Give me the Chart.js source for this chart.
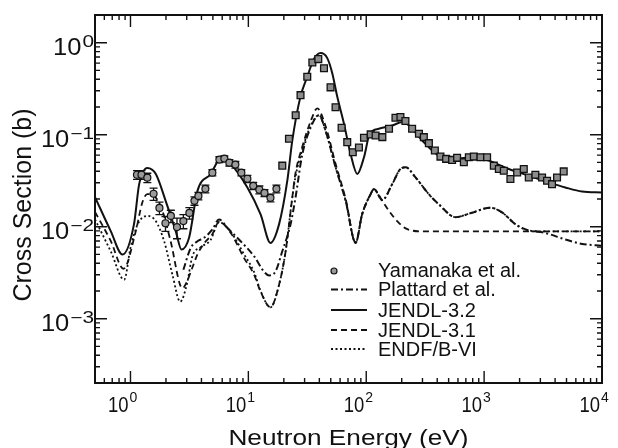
<!DOCTYPE html>
<html>
<head>
<meta charset="utf-8">
<script src="https://cdn.jsdelivr.net/npm/chart.js@4.4.0/dist/chart.umd.min.js"></script>
<style>
  body { margin: 0; background: #fff; }
  #wrap { width: 618px; height: 448px; }
</style>
</head>
<body>
<div id="wrap"><canvas id="xsChart" width="618" height="448"></canvas></div>
<script>
// Yamanaka et al. - low energy points (with error bars)
const yamLoE = [1.135, 1.24, 1.39, 1.57, 1.76, 1.98, 2.2, 2.48, 2.81, 3.16, 3.49, 3.77, 4.32, 4.95, 5.68, 6.26, 6.9, 7.76, 8.72, 9.81, 11.0, 12.4, 13.7, 15.4, 17.3];
const yamLoS = [0.0367, 0.0367, 0.0341, 0.0228, 0.016, 0.0109, 0.0131, 0.0099, 0.0115, 0.0141, 0.0191, 0.0216, 0.0258, 0.0387, 0.0536, 0.055, 0.0497, 0.0473, 0.0387, 0.0332, 0.0278, 0.0252, 0.0233, 0.0206, 0.0258];
const yamLoErr = [0.004, 0.004, 0.004, 0.0035, 0.0025, 0.002, 0.002, 0.0025, 0.002, 0.002, 0.002, 0.002, 0.0025, 0.003, 0.004, 0.004, 0.004, 0.004, 0.003, 0.003, 0.0025, 0.0025, 0.002, 0.002, 0.0025];

// Yamanaka et al. - higher energy points (squares)
const yamHiE = [19.4, 22.1, 25.2, 27.7, 31.6, 34.9, 39.2, 43.8, 49.8, 54.9, 61.8, 69.0, 76.9, 86.7, 95.7, 109, 120, 137, 156, 177, 195, 215, 245, 280, 308, 340, 382, 426, 476, 535, 590, 673, 742, 818, 931, 1060, 1208, 1333, 1469, 1671, 1905, 2170, 2393, 2722, 3102, 3420, 3767, 4156, 4733];
const yamHiS = [0.0461, 0.0904, 0.163, 0.269, 0.427, 0.609, 0.663, 0.528, 0.327, 0.199, 0.119, 0.083, 0.0645, 0.0726, 0.0927, 0.1007, 0.0982, 0.0941, 0.116, 0.153, 0.156, 0.141, 0.116, 0.1025, 0.0941, 0.0809, 0.0673, 0.0578, 0.0546, 0.0532, 0.056, 0.0501, 0.0569, 0.0578, 0.0569, 0.0569, 0.0461, 0.0424, 0.0406, 0.033, 0.0389, 0.0424, 0.0343, 0.0367, 0.0343, 0.0316, 0.029, 0.0343, 0.0399];

// Plattard et al. (dash-dot)
const platE = [2.81, 3.24, 3.7, 4.21, 4.95, 5.64, 6.63, 8.6, 11.2, 13.5, 15.0, 17.0, 19.4, 22.8, 25.0, 28.6, 33.8, 39.7, 45.1, 55, 66.9, 81.3, 92.2, 109, 116, 137, 166, 195, 216, 262, 339, 413, 571, 791, 1127, 1429, 1846, 2392, 3264, 4887, 6772, 10000];
const platS = [0.0034, 0.00587, 0.00695, 0.00757, 0.00933, 0.012, 0.00973, 0.00695, 0.00476, 0.00327, 0.00295, 0.00327, 0.0054, 0.0106, 0.02, 0.06, 0.12, 0.163, 0.111, 0.0442, 0.0191, 0.00667, 0.0136, 0.0226, 0.0256, 0.0195, 0.029, 0.0424, 0.0442, 0.0343, 0.0226, 0.0175, 0.0127, 0.0142, 0.0161, 0.0142, 0.0106, 0.0091, 0.00857, 0.00726, 0.0065, 0.0062];

// JENDL-3.2 (solid)
const j32E = [0.5, 0.68, 0.855, 1.07, 1.185, 1.39, 1.64, 1.99, 2.42, 2.71, 3.14, 3.7, 4.79, 5.83, 7.07, 9.81, 12.7, 15.4, 18.2, 21.4, 23.6, 27.6, 31.6, 36.0, 41.0, 46.7, 51.5, 56.8, 64.7, 73.6, 83.9, 95.7, 107, 128, 166, 202, 230, 298, 413, 571, 791, 1096, 1619, 2392, 3532, 4887, 6772, 10000];
const j32S = [0.021, 0.00895, 0.00498, 0.0106, 0.029, 0.0435, 0.0374, 0.019, 0.00895, 0.00564, 0.00757, 0.0245, 0.0374, 0.0546, 0.0481, 0.0267, 0.0136, 0.00667, 0.0106, 0.0316, 0.0866, 0.256, 0.427, 0.663, 0.771, 0.68, 0.466, 0.258, 0.132, 0.0619, 0.0374, 0.0569, 0.1025, 0.116, 0.126, 0.137, 0.126, 0.0866, 0.0593, 0.0546, 0.0569, 0.0523, 0.0424, 0.0358, 0.0303, 0.0267, 0.0241, 0.0235];

// JENDL-3.1 (dashed)
const j31E = [0.5, 0.68, 0.872, 1.11, 1.26, 1.39, 1.59, 1.87, 2.19, 2.76, 3.04, 3.35, 3.7, 4.21, 4.95, 5.64, 7.07, 9.2, 11.2, 12.7, 15.4, 18.2, 20.7, 23.5, 25.0, 28.6, 33.8, 38.4, 45.1, 55, 66.9, 81.3, 92.2, 109, 116, 137, 156, 183, 216, 298, 1000, 10000];
const j31S = [0.0145, 0.007, 0.00349, 0.00895, 0.0183, 0.0226, 0.0216, 0.0148, 0.00695, 0.00214, 0.0026, 0.0036, 0.005, 0.0066, 0.0083, 0.0113, 0.0086, 0.00456, 0.003, 0.00197, 0.00133, 0.00233, 0.0054, 0.02, 0.037, 0.0731, 0.14, 0.193, 0.125, 0.048, 0.02, 0.0067, 0.0136, 0.0226, 0.0256, 0.019, 0.0148, 0.0115, 0.0096, 0.0089, 0.0089, 0.0089];

// ENDF/B-VI (dotted)
const endfE = [0.5, 0.68, 0.884, 1.0, 1.15, 1.39, 1.64, 1.93, 2.27, 2.64, 3.0, 3.35, 3.95, 4.79, 5.64, 7.07, 9.2, 11.2, 12.7, 15.4, 18.2, 20.7, 23.5, 25.0, 28.6, 33.8, 39.7, 45.1, 55, 66.9, 81.3, 92.2, 109, 116, 137, 166, 195, 216, 262, 339, 413, 571, 791, 1127, 1429, 1846, 2392, 3264, 10000];
const endfS = [0.012, 0.0054, 0.00265, 0.00587, 0.0106, 0.0131, 0.0115, 0.00695, 0.003, 0.00153, 0.00233, 0.00476, 0.006, 0.0072, 0.0112, 0.0088, 0.005, 0.0032, 0.002, 0.00133, 0.00233, 0.0054, 0.02, 0.034, 0.068, 0.125, 0.163, 0.111, 0.0442, 0.0191, 0.00667, 0.0136, 0.0226, 0.0256, 0.0195, 0.029, 0.0424, 0.0442, 0.0343, 0.0226, 0.0175, 0.0127, 0.0142, 0.0161, 0.0142, 0.0106, 0.0091, 0.0089, 0.0089];

// axis ranges and tick exponents
const xRange = [0.5, 10000];
const yRange = [2e-4, 2];
const xExps = [0, 1, 2, 3, 4];
const yExps = [0, -1, -2, -3];

const legendItems = [
  { label: 'Yamanaka et al.', kind: 'marker' },
  { label: 'Plattard et al.', dash: [7, 3, 2, 3] },
  { label: 'JENDL-3.2', dash: [] },
  { label: 'JENDL-3.1', dash: [6, 4] },
  { label: 'ENDF/B-VI', dash: [2, 2.5] },
];

const FONT = '"Liberation Sans", Arial, Helvetica, sans-serif';

function pairs(es, ss) {
  return es.map((e, i) => ({ x: e, y: ss[i] }));
}

function curve(label, es, ss, dash, width) {
  return {
    label: label,
    data: pairs(es, ss),
    borderColor: '#111',
    borderWidth: width,
    borderDash: dash,
    pointRadius: 0,
    fill: false,
    cubicInterpolationMode: 'monotone',
  };
}

function stretchText(ctx, s, x, y, font, sx, align) {
  ctx.save();
  ctx.font = font;
  ctx.translate(x, y);
  ctx.scale(sx, 1);
  ctx.textAlign = align;
  ctx.textBaseline = 'alphabetic';
  ctx.fillText(s, 0, 0);
  ctx.restore();
}

function supText(e) {
  return e < 0 ? '\u2212' + Math.abs(e) : String(e);
}

function logTicks(min, max) {
  const out = [];
  for (let e = Math.floor(Math.log10(min)); e <= Math.ceil(Math.log10(max)); e++) {
    for (let m = 1; m < 10; m++) {
      const v = m * Math.pow(10, e);
      if (v > min * 1.001 && v < max * 0.999) out.push({ v: v, major: m === 1 });
    }
  }
  return out;
}

// error bars under the low-energy points
const errorBars = {
  id: 'errorBars',
  beforeDatasetsDraw(chart) {
    const { ctx, scales: { x, y } } = chart;
    ctx.save();
    ctx.strokeStyle = '#111';
    ctx.lineWidth = 1.3;
    yamLoE.forEach((e, i) => {
      const px = x.getPixelForValue(e);
      const top = y.getPixelForValue(yamLoS[i] + yamLoErr[i]);
      const bot = y.getPixelForValue(yamLoS[i] - yamLoErr[i]);
      ctx.beginPath();
      ctx.moveTo(px, top); ctx.lineTo(px, bot);
      ctx.moveTo(px - 4, top); ctx.lineTo(px + 4, top);
      ctx.moveTo(px - 4, bot); ctx.lineTo(px + 4, bot);
      ctx.stroke();
    });
    ctx.restore();
  },
};

// frame, inward ticks, labels, titles and legend
const frame = {
  id: 'frame',
  beforeDraw(chart) {
    const ctx = chart.ctx;
    ctx.save();
    ctx.fillStyle = '#fff';
    ctx.fillRect(0, 0, chart.width, chart.height);
    ctx.restore();
  },
  afterDraw(chart) {
    const { ctx, chartArea: a, scales: { x, y } } = chart;
    ctx.save();
    ctx.strokeStyle = '#111';
    ctx.fillStyle = '#111';

    // ticks
    ctx.lineWidth = 1.4;
    ctx.beginPath();
    logTicks(xRange[0], xRange[1]).forEach((t) => {
      const px = x.getPixelForValue(t.v);
      const len = t.major ? 12 : 5;
      ctx.moveTo(px, a.bottom); ctx.lineTo(px, a.bottom - len);
      ctx.moveTo(px, a.top); ctx.lineTo(px, a.top + len);
    });
    logTicks(yRange[0], yRange[1]).forEach((t) => {
      const py = y.getPixelForValue(t.v);
      const len = t.major ? 12 : 5;
      ctx.moveTo(a.left, py); ctx.lineTo(a.left + len, py);
      ctx.moveTo(a.right, py); ctx.lineTo(a.right - len, py);
    });
    ctx.stroke();

    // frame
    ctx.lineWidth = 2;
    ctx.strokeRect(a.left, a.top, a.right - a.left, a.bottom - a.top);

    // x tick labels
    xExps.forEach((e) => {
      const px = x.getPixelForValue(Math.pow(10, e));
      stretchText(ctx, '10', px - 2, a.bottom + 29, '22px ' + FONT, 0.84, 'right');
      stretchText(ctx, supText(e), px - 1, a.bottom + 19, '14px ' + FONT, 1, 'left');
    });

    // y tick labels
    yExps.forEach((e) => {
      const py = y.getPixelForValue(Math.pow(10, e));
      const sup = supText(e);
      ctx.font = '16px ' + FONT;
      const supW = ctx.measureText(sup).width * 1.3;
      stretchText(ctx, sup, a.left - 1, py + 4, '16px ' + FONT, 1.3, 'right');
      stretchText(ctx, '10', a.left - 2 - supW, py + 12, '23px ' + FONT, 1.11, 'right');
    });

    // axis titles
    stretchText(ctx, 'Neutron Energy (eV)', (a.left + a.right) / 2, 445, '22px ' + FONT, 1.19, 'center');
    ctx.save();
    ctx.translate(31, (a.top + a.bottom) / 2 + 6);
    ctx.rotate(-Math.PI / 2);
    ctx.font = '25px ' + FONT;
    ctx.textAlign = 'center';
    ctx.textBaseline = 'alphabetic';
    ctx.fillText('Cross Section (b)', 0, 0);
    ctx.restore();

    // legend
    const lx0 = 331, lx1 = 367, tx = 378;
    const rowY = [270, 289.5, 310, 330, 349];
    ctx.font = '20px ' + FONT;
    ctx.textAlign = 'left';
    ctx.textBaseline = 'middle';
    legendItems.forEach((it, i) => {
      const ly = rowY[i];
      if (it.kind === 'marker') {
        ctx.beginPath();
        ctx.arc(334, ly + 1, 3, 0, Math.PI * 2);
        ctx.fillStyle = '#999';
        ctx.fill();
        ctx.lineWidth = 1.2;
        ctx.stroke();
        ctx.fillStyle = '#111';
      } else {
        ctx.beginPath();
        ctx.lineWidth = 2;
        ctx.setLineDash(it.dash);
        ctx.moveTo(lx0, ly); ctx.lineTo(lx1, ly);
        ctx.stroke();
        ctx.setLineDash([]);
      }
      ctx.fillText(it.label, tx, ly + 1);
    });
    ctx.restore();
  },
};

const ctx = document.getElementById('xsChart');
const xsChart = new Chart(ctx, {
  type: 'line',
  data: {
    datasets: [
      {
        label: 'Yamanaka et al.',
        data: pairs(yamLoE, yamLoS),
        showLine: false,
        pointStyle: 'circle',
        pointRadius: 3.5,
        pointBackgroundColor: '#9a9a9a',
        pointBorderColor: '#111',
        pointBorderWidth: 1.2,
      },
      {
        label: 'Yamanaka et al. (high)',
        data: pairs(yamHiE, yamHiS),
        showLine: false,
        pointStyle: 'rect',
        pointRadius: 4.8,
        pointBackgroundColor: '#8c8c8c',
        pointBorderColor: '#111',
        pointBorderWidth: 1.3,
      },
      curve('JENDL-3.2', j32E, j32S, [], 2),
      curve('Plattard et al.', platE, platS, [7, 3, 2, 3], 2),
      curve('JENDL-3.1', j31E, j31S, [6, 4], 1.8),
      curve('ENDF/B-VI', endfE, endfS, [2, 2.5], 1.8),
    ],
  },
  options: {
    responsive: false,
    animation: false,
    devicePixelRatio: 1,
    layout: {
      padding: { left: 95, right: 16, top: 15, bottom: 65 },
    },
    plugins: {
      legend: { display: false },
      tooltip: { enabled: false },
    },
    scales: {
      x: { type: 'logarithmic', min: xRange[0], max: xRange[1], display: false },
      y: { type: 'logarithmic', min: yRange[0], max: yRange[1], display: false },
    },
  },
  plugins: [errorBars, frame],
});
</script>
</body>
</html>
